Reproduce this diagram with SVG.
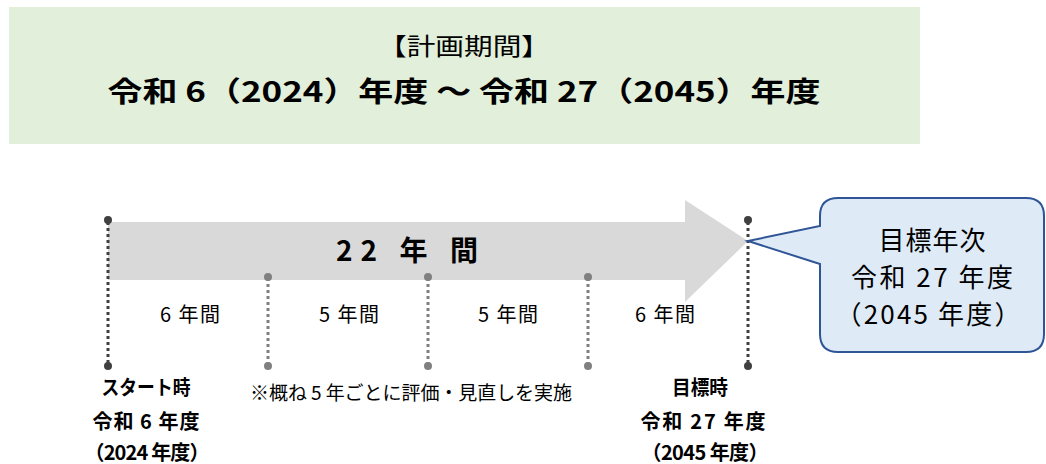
<svg xmlns="http://www.w3.org/2000/svg" width="1046" height="464" viewBox="0 0 1046 464">
<style>
text{font-family:"Noto Sans CJK JP","Noto Sans",sans-serif;fill:#000}
.b{font-weight:bold}
.c{text-anchor:middle}
.dk{stroke:#404040;stroke-width:3;stroke-dasharray:3 3}
.gr{stroke:#808080;stroke-width:3;stroke-dasharray:3 3}
</style>
<rect x="0" y="0" width="1046" height="464" fill="#fff"/>
<g id="period">
<rect x="9" y="7" width="911" height="137" fill="#E2EFDA"/>
<text x="464" y="55" class="c" font-size="24" textLength="172" lengthAdjust="spacingAndGlyphs">【計画期間】</text>
<text x="464" y="102" class="c b" font-size="28" textLength="713" lengthAdjust="spacingAndGlyphs">令和 6（2024）年度 ～ 令和 27（2045）年度</text>
</g>
<g id="arrow">
<path d="M108,222 H685 V200 L748,241 L685,302 V280 H108 Z" fill="#D9D9D9"/>
<text x="407" y="261" class="c b" font-size="28" textLength="142">22 年 間</text>
</g>
<g id="connectors">
<line x1="108" y1="222" x2="108" y2="366" class="dk"/>
<line x1="268" y1="278" x2="268" y2="366" class="gr"/>
<line x1="428" y1="278" x2="428" y2="366" class="gr"/>
<line x1="588" y1="278" x2="588" y2="366" class="gr"/>
<line x1="748" y1="222" x2="748" y2="366" class="dk"/>
<g fill="#404040">
<circle cx="108" cy="220" r="4"/><circle cx="108" cy="366" r="4"/>
<circle cx="748" cy="220" r="4"/><circle cx="748" cy="366" r="4"/>
</g>
<g fill="#808080">
<circle cx="268" cy="277" r="4"/><circle cx="268" cy="366" r="4"/>
<circle cx="428" cy="277" r="4"/><circle cx="428" cy="366" r="4"/>
<circle cx="588" cy="277" r="4"/><circle cx="588" cy="366" r="4"/>
</g>
</g>
<g id="spans">
<text x="190" y="322" class="c" font-size="20" textLength="60">6 年間</text>
<text x="349" y="322" class="c" font-size="20" textLength="60">5 年間</text>
<text x="508" y="322" class="c" font-size="20" textLength="60">5 年間</text>
<text x="665" y="322" class="c" font-size="20" textLength="60">6 年間</text>
</g>
<g id="callout">
<path d="M838,198 H1026 Q1044,198 1044,216 V334 Q1044,352 1026,352 H838 Q820,352 820,334 V264 L748,241 L820,226 V216 Q820,198 838,198 Z" fill="#DEEBF7" stroke="#2F5597" stroke-width="2"/>
<text x="932" y="250" class="c" font-size="26" textLength="107">目標年次</text>
<text x="932" y="287" class="c" font-size="26" textLength="162">令和 27 年度</text>
<text x="928" y="324" class="c" font-size="26" textLength="185">（2045 年度）</text>
</g>
<g id="start">
<text x="146" y="395" class="c b" font-size="20" textLength="89" lengthAdjust="spacingAndGlyphs">スタート時</text>
<text x="146" y="429" class="c b" font-size="20" textLength="107">令和 6 年度</text>
<text x="147" y="460" class="c b" font-size="20" textLength="125">（2024 年度）</text>
</g>
<g id="note">
<text x="411" y="400" class="c" font-size="19" textLength="322">※概ね 5 年ごとに評価・見直しを実施</text>
</g>
<g id="goal">
<text x="700" y="395" class="c b" font-size="20" textLength="56" lengthAdjust="spacingAndGlyphs">目標時</text>
<text x="703" y="429" class="c b" font-size="20" textLength="125">令和 27 年度</text>
<text x="705" y="460" class="c b" font-size="20" textLength="127">（2045 年度）</text>
</g>
</svg>
